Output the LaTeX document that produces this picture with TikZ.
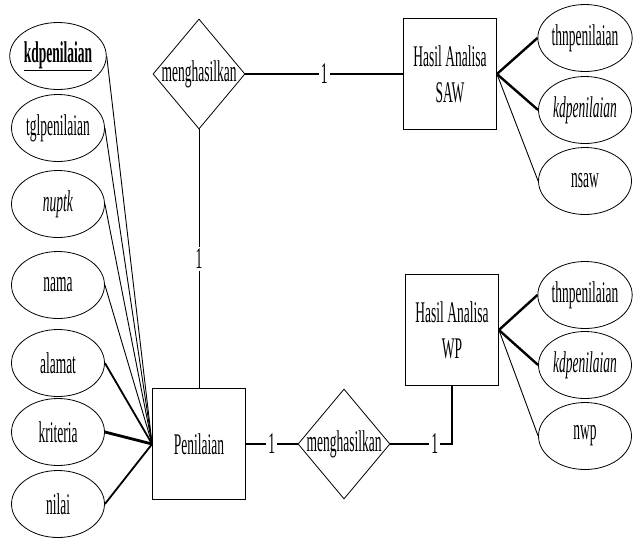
\documentclass[tikz,border=0pt]{standalone}
\usepackage{fontspec}
\setmainfont{Liberation Serif}[FakeStretch=0.45]
\usepackage{tikz}
\usetikzlibrary{shapes.geometric}

\begin{document}
\begin{tikzpicture}[x=1pt,y=-1pt,font=\fontsize{30}{36}\selectfont]
	\tikzset{atribut/.style = {shape=ellipse,draw,line width=0.8pt,minimum width=93pt,minimum height=67pt,inner sep=0pt}}
	\tikzset{entitas/.style = {shape=rectangle,draw,line width=0.8pt,minimum width=93pt,minimum height=111pt,align=center}}
	\tikzset{relasi/.style = {shape=diamond,draw,line width=0.8pt,minimum width=92pt,minimum height=110pt,inner sep=0pt}}
	\tikzset{tipis/.style = {line width=0.9pt}}
	\tikzset{tebal/.style = {line width=2.4pt}}
	\tikzset{kard/.style = {fill=white,inner sep=2pt}}

	\useasboundingbox (0,0) rectangle (636,539);

	% entitas
	\node[entitas] (pen) at (199, 444){Penilaian};
	\node[entitas] (saw) at (450, 74){Hasil Analisa\\SAW};
	\node[entitas] (wp) at (452, 330){Hasil Analisa\\WP};

	% relasi
	\node[relasi] (r1) at (199, 74){\makebox[0pt]{menghasilkan}};
	\node[relasi] (r2) at (344, 444){\makebox[0pt]{menghasilkan}};

	\draw[tebal] (r1) -- node[kard]{1} (saw);
	\draw[tipis] (r1) -- node[kard]{1} (pen);
	\draw[tebal] (pen) -- node[kard]{1} (r2);
	\draw[tebal] (r2) -| node[kard,pos=0.36]{1} (wp);

	% atribut penilaian
	\node[atribut] (a1) at (58, 56){\underline{\textbf{kdpenilaian}}};
	\node[atribut] (a2) at (58, 128){tglpenilaian};
	\node[atribut] (a3) at (58, 204){\textit{nuptk}};
	\node[atribut] (a4) at (58, 285){nama};
	\node[atribut] (a5) at (58, 363){alamat};
	\node[atribut] (a6) at (58, 432){kriteria};
	\node[atribut] (a7) at (58, 504){nilai};

	\draw[tipis] (a1.east) -- (pen.west);
	\draw[tipis] (a2.east) -- (pen.west);
	\draw[tipis] (a3.east) -- (pen.west);
	\draw[tipis] (a4.east) -- (pen.west);
	\draw[line width=1.8pt] (a5.east) -- (pen.west);
	\draw[line width=2.8pt] (a6.east) -- (pen.west);
	\draw[line width=1.8pt] (a7.east) -- (pen.west);

	% atribut hasil analisa saw
	\node[atribut] (s1) at (585, 38){thnpenilaian};
	\node[atribut] (s2) at (585, 110){\textit{kdpenilaian}};
	\node[atribut] (s3) at (585, 181){nsaw};

	\draw[tebal] (saw.east) -- (s1.west);
	\draw[tebal] (saw.east) -- (s2.west);
	\draw[tipis] (saw.east) -- (s3.west);

	% atribut hasil analisa wp
	\node[atribut] (w1) at (585, 295){thnpenilaian};
	\node[atribut] (w2) at (585, 365){\textit{kdpenilaian}};
	\node[atribut] (w3) at (585, 436){nwp};

	\draw[tebal] (wp.east) -- (w1.west);
	\draw[tebal] (wp.east) -- (w2.west);
	\draw[tipis] (wp.east) -- (w3.west);
\end{tikzpicture}
\end{document}
